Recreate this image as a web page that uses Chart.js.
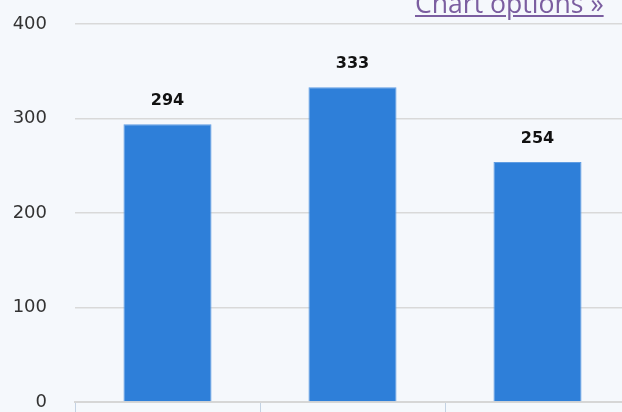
<!DOCTYPE html>
<html>
<head>
<meta charset="utf-8">
<script src="https://cdn.jsdelivr.net/npm/chart.js@4/dist/chart.umd.min.js"></script>
<style>
    html, body { margin: 0; padding: 0; overflow: hidden; background: #f5f8fc; }
    #wrap { position: relative; width: 632px; height: 412px; }
    canvas { display: block; }
    #opts {
        position: absolute; left: 415px; top: -15px;
        font-family: "Open Sans", sans-serif; font-size: 26.6px;
        color: #7b5ea0; text-decoration: underline; white-space: nowrap;
    }
</style>
</head>
<body>
<div id="wrap">
    <canvas id="bar-chart" width="632" height="412"></canvas>
    <a id="opts" href="#">Chart options &raquo;</a>
</div>
<script>
const cats = ['', '', ''];
const values = [294, 333, 254];
const yTicks = [0, 100, 200, 300, 400];

// draws the number above each bar
const valueLabels = {
    id: 'valueLabels',
    afterDatasetsDraw(chart) {
        const ctx = chart.ctx;
        ctx.save();
        ctx.font = 'bold 16px "DejaVu Sans"';
        ctx.fillStyle = '#111';
        ctx.textAlign = 'center';
        ctx.textBaseline = 'middle';
        chart.getDatasetMeta(0).data.forEach((bar, i) => {
            ctx.fillText(values[i], bar.x, bar.y - 23);
        });
        ctx.restore();
    }
};

var barCanvas = document.getElementById('bar-chart');

let barChart = new Chart(barCanvas, {
    type: 'bar',
    data: {
        labels: cats,
        datasets: [{
            data: values,
            backgroundColor: '#2e7fd9',
            borderColor: '#5f9de3',
            borderWidth: 1,
            categoryPercentage: 1,
            barPercentage: 0.476
        }]
    },
    options: {
        responsive: false,
        animation: false,
        layout: { padding: { left: 12, top: 24, right: 2, bottom: 0 } },
        plugins: { legend: { display: false }, tooltip: { enabled: false } },
        scales: {
            x: {
                grid: { drawOnChartArea: false, drawTicks: true, tickLength: 10, color: '#c3d2e3' },
                border: { color: '#d6d6d6', width: 2 },
                ticks: { display: false },
                afterFit: axis => { axis.height = 10; }
            },
            y: {
                min: 0, max: 400,
                afterBuildTicks: axis => { axis.ticks = yTicks.map(v => ({ value: v })); },
                grid: { drawTicks: false, color: '#d9d9d9', lineWidth: 1.5 },
                border: { display: false },
                ticks: { padding: 28, color: '#333', font: { family: 'DejaVu Sans', size: 18 } },
                afterFit: axis => {
                    axis.width = 63;
                    axis.paddingTop = 0;
                    axis.paddingBottom = 0;
                }
            }
        }
    },
    plugins: [valueLabels]
});
</script>
</body>
</html>
